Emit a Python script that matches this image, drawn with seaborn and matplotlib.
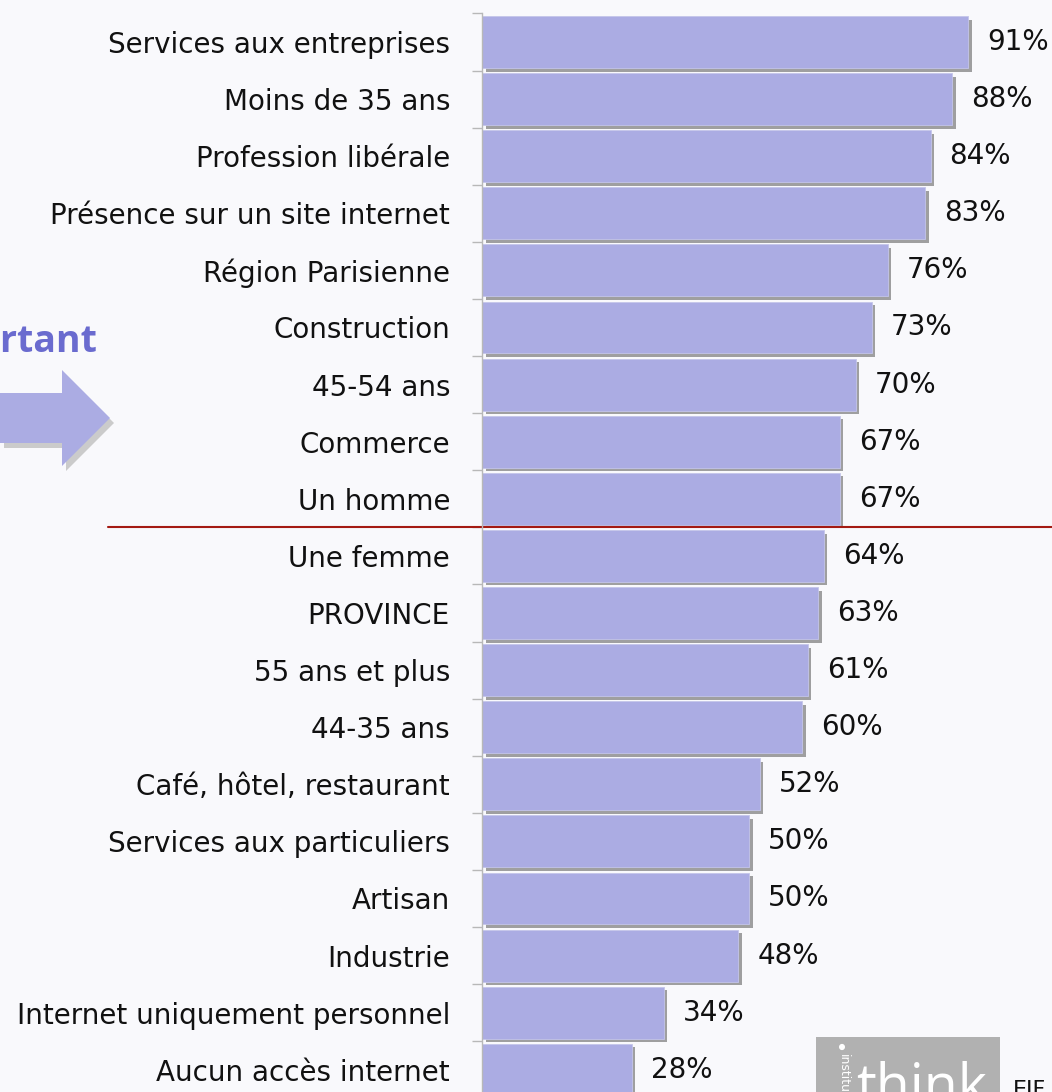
import matplotlib

matplotlib.use("Agg")
import matplotlib.pyplot as plt
import matplotlib.patheffects as pe
import pandas as pd
import seaborn as sns
from matplotlib.patches import Circle, Polygon, Rectangle
from matplotlib.ticker import FixedLocator

categories = [
    "Services aux entreprises",
    "Moins de 35 ans",
    "Profession libérale",
    "Présence sur un site internet",
    "Région Parisienne",
    "Construction",
    "45-54 ans",
    "Commerce",
    "Un homme",
    "Une femme",
    "PROVINCE",
    "55 ans et plus",
    "44-35 ans",
    "Café, hôtel, restaurant",
    "Services aux particuliers",
    "Artisan",
    "Industrie",
    "Internet uniquement personnel",
    "Aucun accès internet",
]
values = [91, 88, 84, 83, 76, 73, 70, 67, 67, 64, 63, 61, 60, 52, 50, 50, 48, 34, 28]
threshold_after = 8.5  # red separator between "Un homme" and "Une femme"

W, H = 1052, 1092
BG = "#f9f9fc"
BAR = "#abace3"
PX = 72 / 100  # points per pixel at dpi 100


def fig_xy(pts):
    return [(x / W, 1 - y / H) for x, y in pts]


def main() -> None:
    sns.set_theme(style="white")
    plt.rcParams["font.family"] = ["DejaVu Sans"]

    df = pd.DataFrame({"label": categories, "value": values})

    fig = plt.figure(figsize=(W / 100, H / 100), dpi=100, facecolor=BG)
    ax = fig.add_axes([0, 0, 1, 1])
    ax.set_facecolor(BG)

    sns.barplot(
        data=df, x="value", y="label", order=categories, color=BAR,
        saturation=1, width=0.91, ax=ax,
    )
    for bar in ax.patches:
        bar.set_edgecolor("#c4c5ea")
        bar.set_linewidth(0.6)
        bar.set_path_effects([
            pe.withSimplePatchShadow(offset=(2.6, -2.6), shadow_rgbFace="#555555", alpha=0.55)
        ])

    ax.bar_label(ax.containers[0], labels=[f"{v}%" for v in values],
                 padding=19 * PX, fontsize=20, color="#111111")

    # axes scale: 0 at x=482 px, 5.34 px per percentage point
    ax.set_xlim(-482 / 5.34, (W - 482) / 5.34)
    ax.set_ylim((H - 42) / 57.1, -42 / 57.1)

    for side in ["top", "right", "bottom"]:
        ax.spines[side].set_visible(False)
    ax.spines["left"].set_position(("data", 0))
    ax.spines["left"].set_bounds(-0.5, len(categories) - 0.5)
    ax.spines["left"].set_color("#b8b8b8")
    ax.spines["left"].set_linewidth(1.0)
    ax.set_xticks([])
    ax.set_xlabel("")
    ax.set_ylabel("")
    ax.yaxis.set_minor_locator(FixedLocator([i - 0.5 for i in range(len(categories) + 1)]))
    ax.tick_params(axis="y", which="major", length=0, pad=32 * PX, labelsize=20, labelcolor="#111111")
    ax.tick_params(axis="y", which="minor", left=True, length=10 * PX, width=1.0, color="#b8b8b8")

    ax.axhline(threshold_after, xmin=108 / W, xmax=1, color="#a41a12", lw=1.5)

    # left callout: cut-off "Important" and arrow
    fig.text(97 / W, 1 - 342 / H, "Important", ha="right", va="center",
             fontsize=27, fontweight="bold", color="#6a6bcf", family=["Open Sans", "DejaVu Sans"])
    arrow = [(0, 393), (62, 393), (62, 370), (110, 418), (62, 466), (62, 443), (0, 443)]
    shadow = [(x + 4, y + 5) for x, y in arrow]
    fig.add_artist(Polygon(fig_xy(shadow), closed=True, transform=fig.transFigure,
                           facecolor="#cbcbcb", edgecolor="none"))
    fig.add_artist(Polygon(fig_xy(arrow), closed=True, transform=fig.transFigure,
                           facecolor=BAR, edgecolor="none"))

    # logo fragment bottom right
    fig.add_artist(Rectangle((816 / W, 0), (1000 - 816) / W, (H - 1037) / H,
                             transform=fig.transFigure, facecolor="#b1b1b1", edgecolor="none"))
    fig.add_artist(Circle((842 / W, 1 - 1047 / H), 3 / W, transform=fig.transFigure,
                          facecolor="white", edgecolor="none"))
    fig.text(843 / W, 1 - 1054 / H, "institut", rotation=-90, ha="center", va="top",
             fontsize=9, color="white")
    fig.text(856 / W, 1 - 1104 / H, "think", ha="left", va="baseline",
             fontsize=40, color="white", family=["Open Sans", "DejaVu Sans"])
    fig.text(1013 / W, 1 - 1080 / H, "EIF", ha="left", va="top", fontsize=16, color="#111111")

    fig.savefig("out.png", dpi=100, facecolor=BG)
    plt.close(fig)


if __name__ == "__main__":
    main()
